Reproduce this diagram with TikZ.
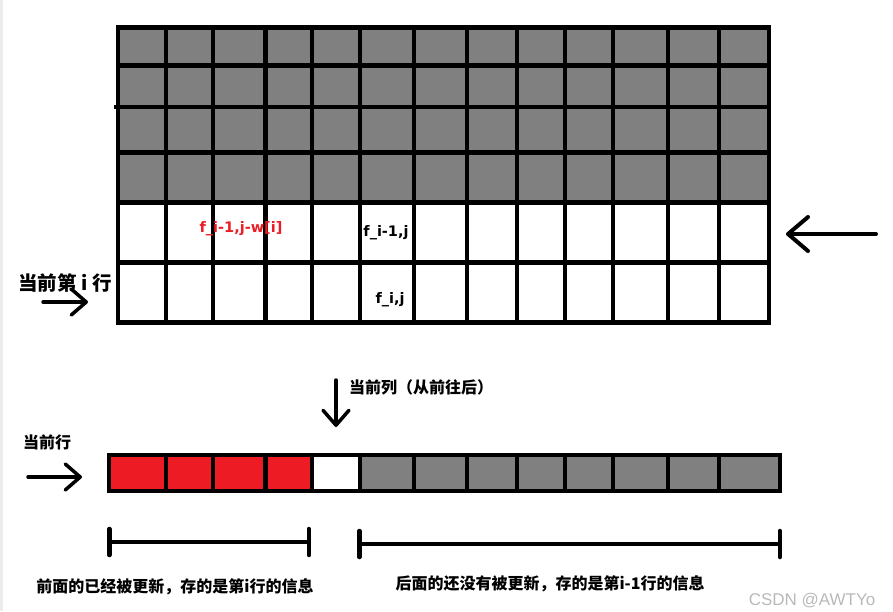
\documentclass[tikz,border=0pt]{standalone}
\usepackage{fontspec}
\setmainfont{Noto Sans CJK SC}
\newfontfamily\cellfont{DejaVu Sans}
\newfontfamily\markfont{Liberation Sans}
\usetikzlibrary{arrows.meta}
\definecolor{cellgray}{RGB}{128,128,128}
\definecolor{cellred}{RGB}{237,28,36}
\definecolor{stripgray}{RGB}{236,236,236}
\begin{document}
\begin{tikzpicture}[x=1pt,y=-1pt,
  gridline/.style={line width=4.5pt},
  hand/.style={line width=3.5pt,line cap=round,
               -{Straight Barb[length=15pt,width=26pt,round]}},
  bighand/.style={line width=4pt,line cap=round,
               -{Straight Barb[length=20pt,width=34pt,round]}},
  span/.style={line width=4.5pt,
               {Bar[width=26pt,round]}-{Bar[width=26pt,round]}},
  flabel/.style={font=\cellfont\bfseries\fontsize{14.5}{16}\selectfont,inner sep=0pt},
  cnlabel/.style={font=\bfseries\fontsize{#1}{18}\selectfont,inner sep=0pt},
  cnlabel/.default=16
]
\useasboundingbox (0,0) rectangle (893,611);
\fill[stripgray] (0,0) rectangle (3,611);
% table of f values
\fill[cellgray] (118,27.5) rectangle (769,202.5);
\foreach \x in {166,213,265.5,312,360,414,467,517,565,613,668,719}
  \draw[gridline] (\x,27.5) -- (\x,322.5);
\foreach \y in {65.5,152.5,202.5,262.5}
  \draw[gridline] (118,\y) -- (769,\y);
\draw[gridline] (114,107) -- (769,107);
\draw[gridline] (118,27.5) rectangle (769,322.5);
\node[flabel,text=cellred] (fprev) at (241,229) {f\_i-1,j-w[i]};
\node[flabel] (fup) at (386,233) {f\_i-1,j};
\node[flabel] (fcur) at (390,300) {f\_i,j};
\node[cnlabel=19.5] (rowtxt) at (65,283) {当前第 i 行};
\coordinate (rowa) at (43,302);
\coordinate (rowb) at (88,302);
\draw[hand] (rowa) -- (rowb);
\coordinate (sidea) at (876,234);
\coordinate (sideb) at (786,234);
\draw[bighand] (sidea) -- (sideb);
% one rolling row
\fill[cellred] (109,455) rectangle (312,491);
\fill[white] (312,455) rectangle (360,491);
\fill[cellgray] (360,455) rectangle (780,491);
\foreach \x in {166,213,265.5,312,360,414,467,517,565,613,668,719}
  \draw[gridline] (\x,455) -- (\x,491);
\draw[gridline] (109,455) rectangle (780,491);
\node[cnlabel,anchor=west] (coltxt) at (349,387) {当前列（从前往后）};
\coordinate (cola) at (336,380);
\coordinate (colb) at (336,427);
\draw[hand] (cola) -- (colb);
\node[cnlabel] (linetxt) at (47,442) {当前行};
\coordinate (linea) at (28,477);
\coordinate (lineb) at (82,477);
\draw[hand] (linea) -- (lineb);
% spans under the row
\coordinate (donea) at (107,542);
\coordinate (doneb) at (311,542);
\draw[span] (donea) -- (doneb);
\coordinate (olda) at (357,544);
\coordinate (oldb) at (782,544);
\draw[span] (olda) -- (oldb);
\node[cnlabel] (donetxt) at (175,587) {前面的已经被更新，存的是第i行的信息};
\node[cnlabel] (oldtxt) at (550,584) {后面的还没有被更新，存的是第i-1行的信息};
\node[font=\markfont\fontsize{17}{19}\selectfont,text=gray!55,inner sep=0pt] (mark) at (812,601) {CSDN @AWTYo};
\end{tikzpicture}
\end{document}
